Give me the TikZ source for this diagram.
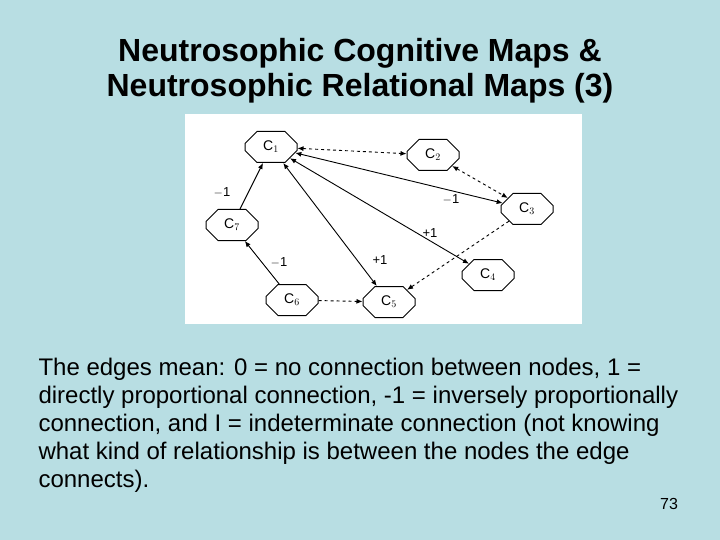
\documentclass[tikz,border=0pt]{standalone}
\usepackage{fontspec}
\setmainfont{Liberation Sans}
\usetikzlibrary{shapes.misc,arrows.meta}
\definecolor{slidebg}{RGB}{184,222,227}
\begin{document}
\begin{tikzpicture}[x=1pt,y=-1pt,
  oct/.style={draw,line width=1pt,chamfered rectangle,chamfered rectangle xsep=6pt,chamfered rectangle ysep=6pt,minimum width=52pt,minimum height=31pt,inner sep=0pt,fill=white,font=\fontsize{14}{15}\selectfont},
  edge/.style={line width=0.9pt,-{Latex[length=6pt,width=5pt]}},
  bi/.style={line width=0.9pt,{Latex[length=6pt,width=5pt]}-{Latex[length=6pt,width=5pt]}},
  dsh/.style={dashed},
  lab/.style={font=\fontsize{13}{14}\selectfont}]
\fill[slidebg] (0,0) rectangle (720,540);
\useasboundingbox (0,0) rectangle (720,540);
\node[font=\bfseries\fontsize{32}{35}\selectfont,align=center] (title) at (360,71) {Neutrosophic Cognitive Maps \&\\Neutrosophic Relational Maps (3)};
\fill[white] (185,114) rectangle (582,324);
\node[oct] (c1) at (271,147) {C$_1$};
\node[oct] (c2) at (433,155) {C$_2$};
\node[oct] (c3) at (527,209) {C$_3$};
\node[oct] (c4) at (488,275) {C$_4$};
\node[oct] (c5) at (389,302) {C$_5$};
\node[oct] (c6) at (292,300) {C$_6$};
\node[oct] (c7) at (232,225) {C$_7$};
\draw[bi,dsh] (c1) -- (c2);
\draw[bi,dsh] (c2) -- (c3);
\draw[bi] (c1) -- (c3);
\draw[bi] (c1) -- (c4);
\draw[bi] (c1) -- (c5);
\draw[edge,dsh] (c3) -- (c5);
\draw[edge,dsh] (c6) -- (c5);
\draw[edge] (c6) -- (c7);
\draw[edge] (c7) -- (c1);
\node[lab] (l1) at (451,200) {$-$1};
\node[lab] (l2) at (430,233) {+1};
\node[lab] (l3) at (380,260) {+1};
\node[lab] (l4) at (279,263) {$-$1};
\node[lab] (l5) at (222,193) {$-$1};
\node[anchor=north west,align=left,font=\fontsize{24}{28}\selectfont] (body) at (35,355) {The edges mean: 0 = no connection between nodes, 1 =\\directly proportional connection, -1 = inversely proportionally\\connection, and I = indeterminate connection (not knowing\\what kind of relationship is between the nodes the edge\\connects).};
\node[font=\fontsize{16}{17}\selectfont] (pg) at (669,504) {73};
\end{tikzpicture}
\end{document}
